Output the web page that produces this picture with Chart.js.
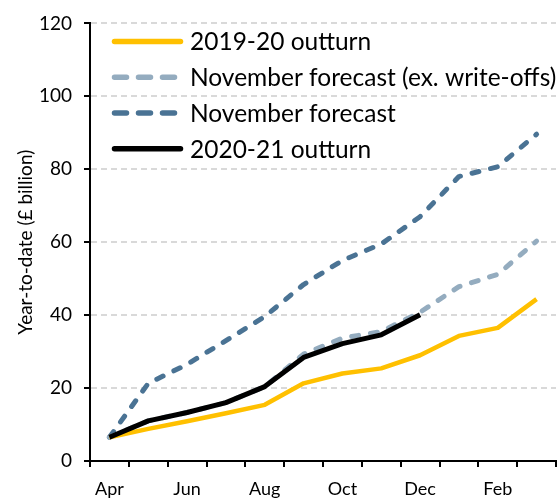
<!DOCTYPE html>
<html>
<head>
<meta charset="utf-8">
<script src="https://cdn.jsdelivr.net/npm/chart.js@4"></script>
<style>
    html, body { margin: 0; padding: 0; background: #fff; }
    #wrap { width: 558px; height: 500px; position: relative; }
</style>
</head>
<body>
<div id="wrap"><canvas id="borrowingChart"></canvas></div>
<script>
// Year-to-date figures, £ billion
const months = ['Apr', 'May', 'Jun', 'Jul', 'Aug', 'Sep', 'Oct', 'Nov', 'Dec', 'Jan', 'Feb', 'Mar'];
const outturn1920 = [6.5, 8.8, 10.9, 13.1, 15.4, 21.3, 24.0, 25.4, 29.0, 34.3, 36.5, 44.4];
const forecastExWriteOffs = [6.5, 11.0, 13.3, 16.0, 20.4, 29.3, 33.7, 35.5, 40.8, 47.8, 51.2, 60.3];
const novemberForecast = [6.5, 21.3, 26.5, 33.0, 39.6, 48.4, 55.0, 59.5, 67.0, 78.0, 80.7, 89.6];
const outturn2021 = [6.5, 11.0, 13.3, 16.0, 20.4, 28.4, 32.2, 34.6, 40.1, null, null, null];
const yTicks = [0, 20, 40, 60, 80, 100, 120];

const fontFamily = 'Lato, "DejaVu Sans", sans-serif';

// legend drawn inside the plot, top-left, keeping dataset order
const insideLegend = {
    id: 'insideLegend',
    afterDatasetsDraw(chart) {
        const { ctx, chartArea } = chart;
        ctx.save();
        chart.data.datasets.forEach((ds, i) => {
            const y = chartArea.top + 18 + i * 35.8;
            const x0 = chartArea.left + 24.5;
            ctx.beginPath();
            ctx.setLineDash(ds.borderDash ? [12, 12] : []);
            ctx.lineCap = 'round';
            ctx.lineWidth = 5.5;
            ctx.strokeStyle = ds.borderColor;
            ctx.moveTo(x0, y);
            ctx.lineTo(x0 + 66, y);
            ctx.stroke();
            ctx.setLineDash([]);
            ctx.fillStyle = '#000';
            ctx.font = '24.5px ' + fontFamily;
            ctx.textAlign = 'left';
            ctx.textBaseline = 'middle';
            ctx.fillText(ds.label, chartArea.left + 100, y + 1);
        });
        ctx.restore();
    }
};

const ctx = document.getElementById('borrowingChart').getContext('2d');
new Chart(ctx, {
    type: 'line',
    data: {
        labels: months,
        datasets: [
            {
                label: '2019-20 outturn',
                data: outturn1920,
                borderColor: '#FFC000',
                backgroundColor: '#FFC000',
                borderWidth: 4.5,
                order: 1
            },
            {
                label: 'November forecast (ex. write-offs)',
                data: forecastExWriteOffs,
                borderColor: '#94ACBF',
                backgroundColor: '#94ACBF',
                borderWidth: 5,
                borderDash: [7, 12],
                borderCapStyle: 'round',
                order: 2
            },
            {
                label: 'November forecast',
                data: novemberForecast,
                borderColor: '#4A7394',
                backgroundColor: '#4A7394',
                borderWidth: 5,
                borderDash: [7, 12],
                borderCapStyle: 'round',
                order: 3
            },
            {
                label: '2020-21 outturn',
                data: outturn2021,
                borderColor: '#000000',
                backgroundColor: '#000000',
                borderWidth: 5,
                order: 0
            }
        ]
    },
    options: {
        responsive: true,
        maintainAspectRatio: false,
        animation: false,
        layout: {
            padding: { top: 14, right: 2, left: 0, bottom: 0 }
        },
        elements: {
            point: { radius: 0, hoverRadius: 0 },
            line: { tension: 0, borderJoinStyle: 'round', fill: false }
        },
        plugins: {
            tooltip: { enabled: false },
            legend: { display: false }
        },
        scales: {
            x: {
                type: 'category',
                offset: true,
                afterFit(scale) { scale.height = 39; },
                grid: {
                    offset: true,
                    drawOnChartArea: false,
                    drawTicks: true,
                    tickLength: 6,
                    tickColor: '#000',
                    lineWidth: 2
                },
                border: { display: true, color: '#000', width: 2 },
                ticks: {
                    autoSkip: false,
                    maxRotation: 0,
                    padding: 11,
                    color: '#000',
                    font: { family: fontFamily, size: 18 },
                    callback(value, index) {
                        return index % 2 === 0 ? months[index] : '';
                    }
                }
            },
            y: {
                min: yTicks[0],
                max: yTicks[yTicks.length - 1],
                afterFit(scale) { scale.width = 90; },
                afterBuildTicks(scale) {
                    scale.ticks = yTicks.map(v => ({ value: v }));
                },
                grid: {
                    color: c => (c.tick && c.tick.value === 0 ? 'rgba(0,0,0,0)' : '#d9d9d9'),
                    lineWidth: 2,
                    tickLength: 6,
                    tickColor: '#000',
                    tickBorderDash: [0, 0]
                },
                border: { display: true, color: '#000', width: 2, dash: [6, 4] },
                ticks: {
                    padding: 12,
                    color: '#000',
                    font: { family: fontFamily, size: 19 }
                },
                title: {
                    display: true,
                    text: 'Year-to-date (£ billion)',
                    color: '#000',
                    padding: { top: 14, bottom: 0 },
                    font: { family: fontFamily, size: 19 }
                }
            }
        }
    },
    plugins: [insideLegend]
});
</script>
</body>
</html>
